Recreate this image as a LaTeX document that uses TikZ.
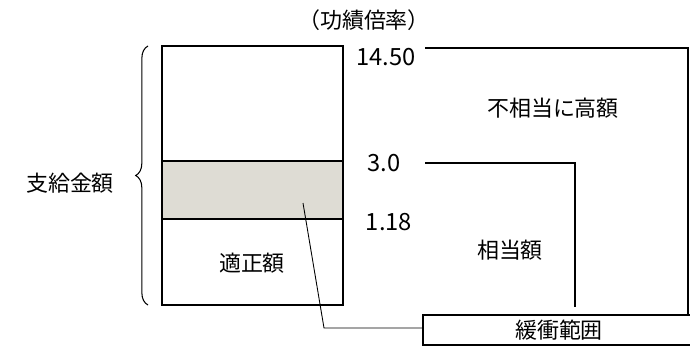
\documentclass[tikz,border=0pt]{standalone}
\usepackage{fontspec}
\setmainfont{Noto Sans CJK JP}
\usetikzlibrary{decorations.pathreplacing}
\definecolor{bandgray}{RGB}{222,220,212}
\tikzset{
  lbl/.style={inner sep=0pt, font=\fontsize{12.5}{14}\selectfont},
  num/.style={inner sep=0pt, font=\fontsize{13.5}{15}\selectfont},
  ln/.style={line width=0.7pt, black},
  bufbox/.style={draw, line width=0.7pt, inner sep=0pt, minimum width=5.44cm, minimum height=0.6cm, font=\fontsize{12.5}{14}\selectfont},
}
\begin{document}
\begin{tikzpicture}[x=0.02cm,y=-0.02cm]
\useasboundingbox (0,0) rectangle (690,348);
% column
\fill[bandgray] (162,161) rectangle (343,219);
\draw[ln] (162,46) rectangle (343,305);
\draw[ln] (162,161) -- (343,161);
\draw[ln] (162,219) -- (343,219);
% brace
\draw[line width=0.6pt, decorate, decoration={brace, amplitude=7pt}] (148,305) -- (148,46);
\node[lbl] (pay) at (70,183) {支給金額};
\node[lbl] (head) at (364,20) {（功績倍率）};
\node[num] (n1450) at (386,57) {14.50};
\node[num] (n30) at (384,163) {3.0};
\node[num] (n118) at (389,222) {1.18};
\node[lbl] (fair) at (252,263) {適正額};
\node[lbl] (high) at (553,108) {不相当に高額};
\node[lbl] (ok) at (510,250) {相当額};
\node[bufbox] (buf) at (559,330) {緩衝範囲};
% lines
\coordinate (t1) at (425,48);
\coordinate (t2) at (688,48);
\coordinate (t3) at (688,315);
\draw[ln] (t1) -- (t2) -- (t3);
\coordinate (m1) at (425,163);
\coordinate (m2) at (575,163);
\coordinate (m3) at (575,307);
\draw[ln] (m1) -- (m2) -- (m3);
\coordinate (g1) at (303,203);
\coordinate (g2) at (324,328);
\draw[line width=0.5pt] (g1) -- (g2) -- (g2 -| buf.west);
\end{tikzpicture}
\end{document}
